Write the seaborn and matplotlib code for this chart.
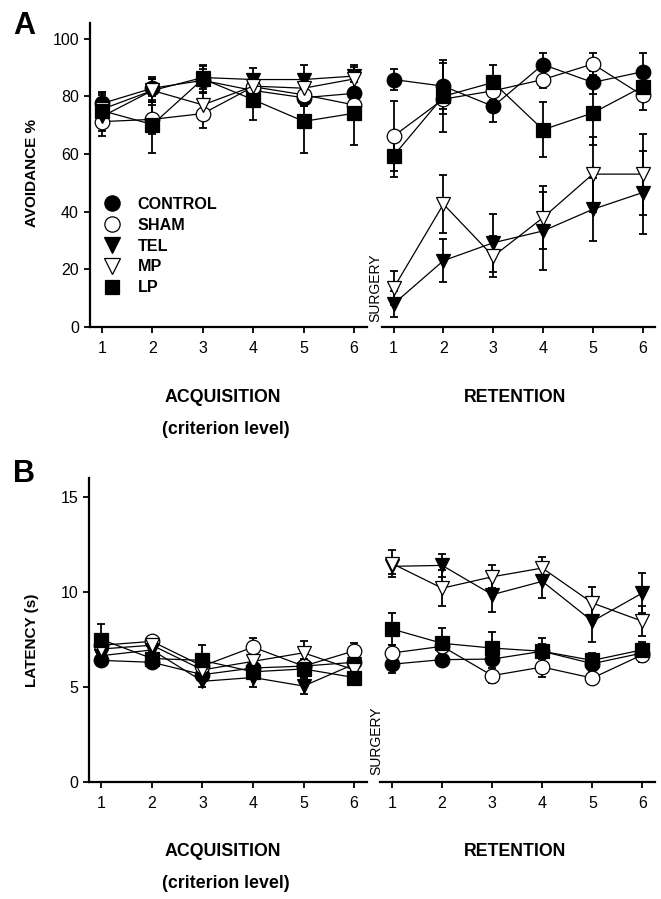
import numpy as np
import pandas as pd
import matplotlib
matplotlib.use("Agg")
import matplotlib.pyplot as plt
from matplotlib.lines import Line2D
import seaborn as sns

sns.set_style("white")
plt.rcParams['font.family'] = ['Liberation Sans', 'DejaVu Sans']
plt.rcParams.update({"text.color": "black", "axes.labelcolor": "black",
                     "xtick.color": "black", "ytick.color": "black",
                     "axes.edgecolor": "black"})

# ---------------- data ----------------
sessions = [1, 2, 3, 4, 5, 6]
groups = ["CONTROL", "SHAM", "TEL", "MP", "LP"]

# Panel A: avoidance %
avoid_acq = {
    "CONTROL": [77.5, 82.8, 85.5, 82.0, 79.5, 81.0],
    "SHAM":    [71.2, 72.0, 74.0, 83.3, 80.5, 77.0],
    "TEL":     [73.0, 82.0, 86.5, 85.8, 85.8, 87.0],
    "MP":      [75.5, 82.0, 77.0, 83.5, 82.8, 86.0],
    "LP":      [75.0, 70.2, 86.0, 78.8, 71.3, 74.1],
}
avoid_acq_err = {
    "CONTROL": [4, 4, 4, 4, 3, 5],
    "SHAM":    [5, 5, 5, 4, 4, 5],
    "TEL":     [5, 4, 4, 4, 5, 4],
    "MP":      [5, 4, 4, 4, 4, 4],
    "LP":      [6, 10, 5, 7, 11, 11],
}
avoid_ret = {
    "CONTROL": [85.8, 83.5, 76.5, 91.0, 84.8, 88.5],
    "SHAM":    [66.2, 79.0, 81.9, 85.8, 91.2, 80.3],
    "TEL":     [8.0, 23.0, 29.2, 33.3, 40.8, 46.6],
    "MP":      [13.5, 42.6, 24.5, 37.9, 53.0, 53.0],
    "LP":      [59.4, 80.0, 84.8, 68.4, 74.2, 83.3],
}
avoid_ret_err = {
    "CONTROL": [3.5, 8, 5.5, 4, 4, 6.5],
    "SHAM":    [12, 5, 4, 3, 3.7, 5],
    "TEL":     [4.5, 7.5, 10, 13.5, 11, 14.5],
    "MP":      [6, 10, 7, 11, 13, 14],
    "LP":      [7.5, 12.5, 6, 9.5, 11, 4],
}

# Panel B: latency (s)
lat_acq = {
    "CONTROL": [6.4, 6.3, 5.65, 6.0, 6.1, 6.3],
    "SHAM":    [7.2, 7.4, 6.1, 7.1, 6.1, 6.9],
    "TEL":     [6.65, 6.95, 5.3, 5.5, 5.05, 6.2],
    "MP":      [7.0, 7.2, 5.9, 6.35, 6.8, 5.9],
    "LP":      [7.5, 6.5, 6.4, 5.8, 5.95, 5.5],
}
lat_acq_err = {
    "CONTROL": [0.3, 0.3, 0.3, 0.3, 0.3, 0.3],
    "SHAM":    [0.4, 0.3, 0.4, 0.5, 0.4, 0.4],
    "TEL":     [0.4, 0.4, 0.3, 0.5, 0.4, 0.4],
    "MP":      [0.4, 0.3, 0.4, 0.4, 0.6, 0.4],
    "LP":      [0.8, 0.5, 0.8, 0.4, 0.4, 0.4],
}
lat_ret = {
    "CONTROL": [6.2, 6.44, 6.47, 6.88, 6.23, 6.79],
    "SHAM":    [6.79, 7.14, 5.6, 6.05, 5.47, 6.7],
    "TEL":     [11.35, 11.4, 9.86, 10.56, 8.46, 9.95],
    "MP":      [11.5, 10.2, 10.8, 11.26, 9.42, 8.46],
    "LP":      [8.05, 7.3, 7.05, 6.88, 6.4, 6.96],
}
lat_ret_err = {
    "CONTROL": [0.45, 0.3, 0.3, 0.4, 0.3, 0.3],
    "SHAM":    [0.4, 0.4, 0.4, 0.5, 0.3, 0.4],
    "TEL":     [0.4, 0.6, 0.9, 0.9, 1.1, 1.05],
    "MP":      [0.7, 0.95, 0.6, 0.6, 0.85, 0.8],
    "LP":      [0.85, 0.8, 0.85, 0.7, 0.4, 0.4],
}

markers = {"CONTROL": "o", "SHAM": "o", "TEL": "v", "MP": "v", "LP": "s"}
faces = {"CONTROL": "black", "SHAM": "white", "TEL": "black", "MP": "white", "LP": "black"}
msizes = {"CONTROL": 10.5, "SHAM": 10.5, "TEL": 10.5, "MP": 10.5, "LP": 9.5}

W, H = 661, 899
fig = plt.figure(figsize=(W / 100, H / 100), dpi=100)


def px_axes(x0, x1, ytop, ybot):
    return fig.add_axes([x0 / W, 1 - ybot / H, (x1 - x0) / W, (ybot - ytop) / H])


def draw(ax, means, errs, ylim, yticks, left=True):
    for g in groups:
        df = pd.DataFrame({"session": sessions, "value": means[g]})
        ax.errorbar(sessions, means[g], yerr=errs[g], fmt="none", ecolor="black",
                    elinewidth=1.3, capsize=3.2, capthick=1.3, zorder=2)
        sns.lineplot(data=df, x="session", y="value", ax=ax, color="black",
                     linewidth=0.9, marker=markers[g], markersize=msizes[g],
                     markerfacecolor=faces[g], markeredgecolor="black",
                     markeredgewidth=0.9, zorder=3)
    ax.set_xlim(0.76, 6.25)
    ax.set_ylim(*ylim)
    ax.set_xticks(sessions)
    ax.set_xticklabels([str(s) for s in sessions], fontsize=11.5)
    ax.set_xlabel("")
    ax.set_ylabel("")
    for s in ["top", "right"]:
        ax.spines[s].set_visible(False)
    ax.spines["bottom"].set_linewidth(1.6)
    ax.spines["left"].set_linewidth(1.6)
    ax.tick_params(axis="x", direction="out", length=4, width=1.3, pad=6, bottom=True)
    if left:
        ax.set_yticks(yticks)
        ax.set_yticklabels([str(t) for t in yticks], fontsize=11.5)
        ax.tick_params(axis="y", direction="out", length=4, width=1.3, pad=4, left=True)
    else:
        ax.spines["left"].set_visible(False)
        ax.set_yticks([])
    ax.set_facecolor("none")


# Panel A
axA1 = px_axes(90, 366.7, 23, 327)
axA2 = px_axes(381.7, 655, 23, 327)
draw(axA1, avoid_acq, avoid_acq_err, (0, 105.4), [0, 20, 40, 60, 80, 100], True)
draw(axA2, avoid_ret, avoid_ret_err, (0, 105.4), [], False)

# Panel B
axB1 = px_axes(89.3, 366.7, 478, 782)
axB2 = px_axes(380, 655, 478, 782)
draw(axB1, lat_acq, lat_acq_err, (0, 16.0), [0, 5, 10, 15], True)
draw(axB2, lat_ret, lat_ret_err, (0, 16.0), [], False)

# Legend
handles = [Line2D([], [], linestyle="none", marker=markers[g], markersize=msizes[g] + 0.5,
                  markerfacecolor=faces[g], markeredgecolor="black", markeredgewidth=0.9)
           for g in groups]
axA1.legend(handles, groups, loc="upper left", bbox_to_anchor=((104 - 90) / 276.7, (327 - 197) / 304),
            frameon=False, prop={"weight": "bold", "size": 11.6}, handlelength=1.0,
            handletextpad=1.1, labelspacing=0.36, borderaxespad=0, borderpad=0)


def ftext(x, y, s, **kw):
    fig.text(x / W, 1 - y / H, s, **kw)


# Panel letters
ftext(24, 26, "A", fontsize=22, fontweight="bold", ha="center", va="center")
ftext(24, 474, "B", fontsize=22, fontweight="bold", ha="center", va="center")

# Y labels
ftext(32, 173, "AVOIDANCE %", fontsize=11, fontweight="bold", rotation=90, ha="center", va="center")
ftext(32, 640, "LATENCY (s)", fontsize=11, fontweight="bold", rotation=90, ha="center", va="center")

# X group labels
for yy in (398, 852):
    ftext(223, yy, "ACQUISITION", fontsize=12.8, fontweight="bold", ha="center", va="center")
    ftext(226, yy + 32, "(criterion level)", fontsize=12.8, fontweight="bold", ha="center", va="center")
    ftext(515, yy, "RETENTION", fontsize=12.8, fontweight="bold", ha="center", va="center")

# SURGERY markers
ftext(375, 288, "SURGERY", fontsize=10, rotation=90, ha="center", va="center")
ftext(376.5, 741, "SURGERY", fontsize=10, rotation=90, ha="center", va="center")

fig.savefig("out.png", dpi=100)
